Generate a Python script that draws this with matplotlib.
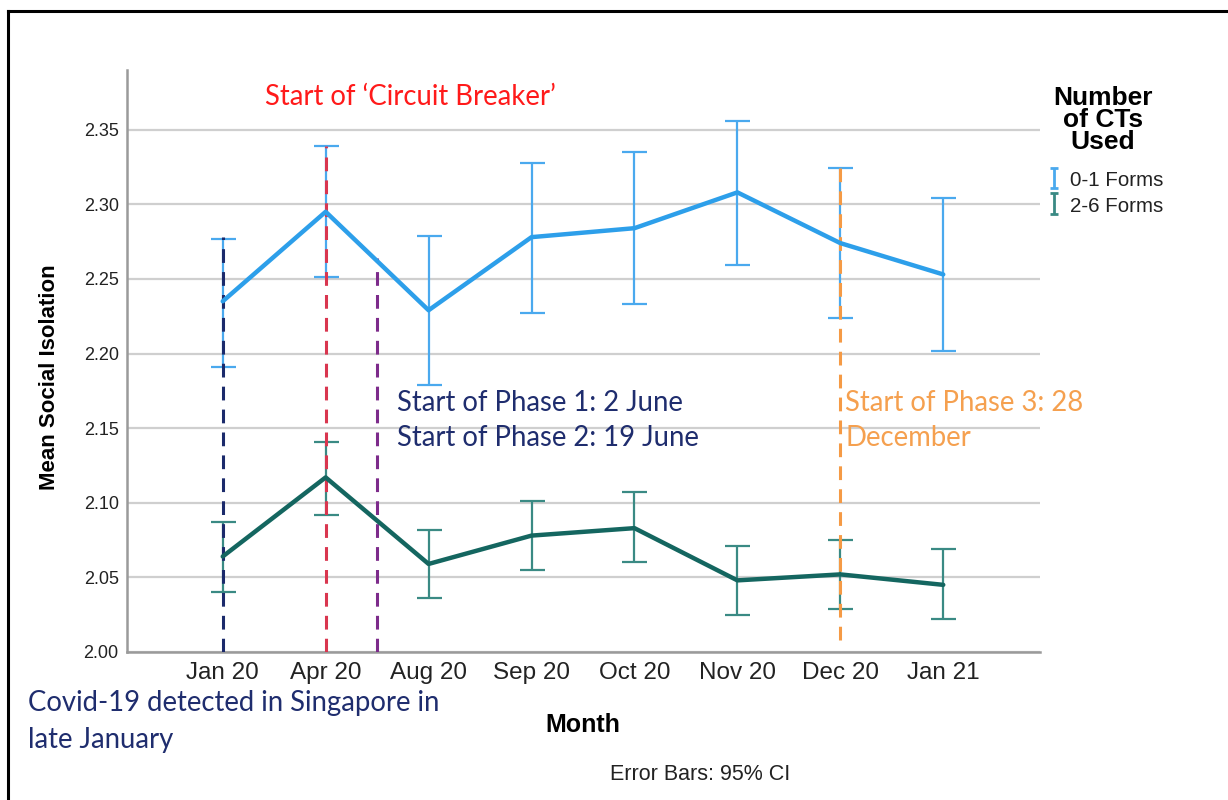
import matplotlib.pyplot as plt
from matplotlib.lines import Line2D
import numpy as np

# data
months = ["Jan 20", "Apr 20", "Aug 20", "Sep 20", "Oct 20", "Nov 20", "Dec 20", "Jan 21"]

low_mean = [2.235, 2.295, 2.229, 2.278, 2.284, 2.308, 2.274, 2.253]
low_lo = [2.191, 2.251, 2.179, 2.227, 2.233, 2.259, 2.224, 2.202]
low_hi = [2.277, 2.339, 2.279, 2.328, 2.335, 2.356, 2.324, 2.304]

high_mean = [2.064, 2.117, 2.059, 2.078, 2.083, 2.048, 2.052, 2.045]
high_lo = [2.040, 2.092, 2.036, 2.055, 2.060, 2.025, 2.029, 2.022]
high_hi = [2.087, 2.141, 2.082, 2.101, 2.107, 2.071, 2.075, 2.069]

series_names = ["0-1 Forms", "2-6 Forms"]

# event markers: (x position in month index, bottom, top)
event_x = [0, 1, 1.5, 6]
event_bottom = [2.00, 2.00, 2.00, 2.008]
event_top = [2.278, 2.339, 2.264, 2.324]
event_colors = ["#1b2a6b", "#d9364f", "#7d2b8b", "#f59a45"]

W, H = 1228, 800


def fx(px):
    return px / W


def fy(py):
    return 1 - py / H


fig = plt.figure(figsize=(12.28, 8), dpi=100)
ax = fig.add_axes([fx(127), fy(652), fx(1040) - fx(127), fy(70) - fy(652)])

x = np.arange(len(months))
blue = "#2d9fea"
blue_err = "#4aa9ee"
green = "#146660"
green_err = "#3a8a84"

ax.errorbar(x, low_mean,
            yerr=[np.array(low_mean) - np.array(low_lo), np.array(low_hi) - np.array(low_mean)],
            fmt="none", ecolor=blue_err, elinewidth=1.6, capsize=9, capthick=1.6, zorder=3)
ax.errorbar(x, high_mean,
            yerr=[np.array(high_mean) - np.array(high_lo), np.array(high_hi) - np.array(high_mean)],
            fmt="none", ecolor=green_err, elinewidth=1.6, capsize=9, capthick=1.6, zorder=3)

for ex, eb, et, ec in zip(event_x, event_bottom, event_top, event_colors):
    ax.plot([ex, ex], [eb, et], color=ec, lw=2.2, dashes=(4.5, 3), zorder=4)

ax.plot(x, low_mean, color=blue, lw=3.2, zorder=5, solid_capstyle="round")
ax.plot(x, high_mean, color=green, lw=3.2, zorder=5, solid_capstyle="round")

# small proxies for the legend icons
h1 = ax.errorbar([np.nan], [np.nan], yerr=[0.01], fmt="none", ecolor=blue_err,
                 elinewidth=2, capsize=3, capthick=2)
h2 = ax.errorbar([np.nan], [np.nan], yerr=[0.01], fmt="none", ecolor=green_err,
                 elinewidth=2, capsize=3, capthick=2)

ax.set_xlim(-0.93, 7.94)
ax.set_ylim(2.00, 2.39)
ax.set_yticks([2.00, 2.05, 2.10, 2.15, 2.20, 2.25, 2.30, 2.35])
ax.set_yticklabels(["2.00", "2.05", "2.10", "2.15", "2.20", "2.25", "2.30", "2.35"],
                   fontsize=13, family="Liberation Sans", color="#222222")
ax.set_xticks(x)
ax.set_xticklabels(months, fontsize=17.5, family="Liberation Sans", color="#222222")
ax.tick_params(length=0)
ax.tick_params(axis="y", pad=6)
ax.tick_params(axis="x", pad=7)

ax.grid(axis="y", color="#cfcfcf", lw=1.6, zorder=0)
ax.set_axisbelow(True)
for s in ["top", "right"]:
    ax.spines[s].set_visible(False)
for s in ["left", "bottom"]:
    ax.spines[s].set_color("#9a9a9a")
    ax.spines[s].set_linewidth(1.8)

fig.text(fx(50), fy(377), "Mean Social Isolation", rotation=90, ha="center", va="center",
         fontsize=16, fontweight="bold", family="Liberation Sans")
fig.text(fx(583), fy(725), "Month", ha="center", va="center",
         fontsize=18, fontweight="bold", family="Liberation Sans")
fig.text(fx(700), fy(774), "Error Bars: 95% CI", ha="center", va="center",
         fontsize=15.5, family="Liberation Sans", color="#222222")

# legend
fig.text(fx(1103), fy(120), "Number\nof CTs\nUsed", ha="center", va="center", ma="center",
         fontsize=19, fontweight="bold", family="Liberation Sans", linespacing=0.92)
leg = fig.legend([h1, h2], series_names, loc="upper left",
                 bbox_to_anchor=(fx(1044), fy(170)), frameon=False,
                 prop={"family": "Liberation Sans", "size": 14.8},
                 handlelength=0.95, handleheight=1.0, handletextpad=0.3,
                 labelspacing=0.25, borderpad=0, borderaxespad=0)
for t in leg.get_texts():
    t.set_color("#222222")

# annotations
ann_font = "Lato"
ann_size = 19.8
fig.text(fx(265), fy(97), "Start of \u2018Circuit Breaker\u2019", ha="left", va="center",
         fontsize=ann_size, family=ann_font, color="#ff1a1a")
fig.text(fx(397), fy(403), "Start of Phase 1: 2 June", ha="left", va="center",
         fontsize=ann_size, family=ann_font, color="#1f2d6e")
fig.text(fx(397), fy(438), "Start of Phase 2: 19 June", ha="left", va="center",
         fontsize=ann_size, family=ann_font, color="#1f2d6e")
fig.text(fx(845), fy(403), "Start of Phase 3: 28", ha="left", va="center",
         fontsize=ann_size, family=ann_font, color="#f5a04f")
fig.text(fx(845), fy(438), "December", ha="left", va="center",
         fontsize=ann_size, family=ann_font, color="#f5a04f")
fig.text(fx(28), fy(703), "Covid-19 detected in Singapore in", ha="left", va="center",
         fontsize=ann_size, family=ann_font, color="#1f2d6e")
fig.text(fx(28), fy(740), "late January", ha="left", va="center",
         fontsize=ann_size, family=ann_font, color="#1f2d6e")

# frame lines around the picture
fig.add_artist(Line2D([fx(8), fx(8)], [fy(11), 0], color="black", lw=2.2))
fig.add_artist(Line2D([fx(8), 1], [fy(11), fy(11)], color="black", lw=2.2))

fig.savefig("out.png", dpi=100)
